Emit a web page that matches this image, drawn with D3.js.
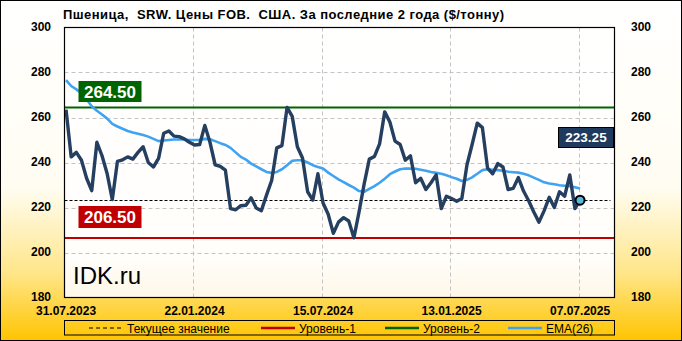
<!DOCTYPE html>
<html lang="ru">
<head>
  <meta charset="UTF-8" />
  <title>Пшеница SRW. Цены FOB</title>
  <style>
    body {
      margin: 0;
      background: #fff;
    }
    svg {
      display: block;
      font-family: "Liberation Sans", Arial, sans-serif;
    }
    .tick-label {
      font-size: 12px;
      font-weight: bold;
      fill: #000;
    }
    .grid {
      stroke: #c4c4c4;
      stroke-width: 1;
      stroke-dasharray: 4 3;
    }
  </style>
</head>
<body>
  <svg id="chart" width="682" height="341" viewBox="0 0 682 341" xmlns="http://www.w3.org/2000/svg"></svg>

  <script src="https://d3js.org/d3.v7.min.js"></script>
  <script>
    const width = 682;
    const height = 341;

    // weekly prices, $/t (index 0 = 31.07.2023, index 100 = 07.07.2025)
    const prices = [
      263.5, 242.5, 244.5, 241, 233, 227.5, 249, 243, 235, 223.5,
      240.5, 241.2, 242.5, 241.5, 244.5, 247, 240, 238, 241.8, 253,
      254, 251.7, 251.5, 250.5, 249, 247.8, 248, 256.5, 249, 239,
      238.3, 236.6, 219.5, 219, 220.8, 221, 224.3, 219.8, 218.6, 225.5,
      232, 246.5, 247.5, 264.5, 260.5, 247, 242, 227, 223.3, 235,
      222, 217, 208.5, 213.5, 215.5, 214, 206.5, 218, 230.5, 241.5,
      242.7, 248.3, 262.5, 258, 249.5, 248, 241, 243, 231, 233,
      228, 231, 234.5, 219.5, 225, 224, 222.8, 224, 239, 248,
      257.5, 255.5, 237.5, 235, 239.5, 238, 228, 228.5, 233.3, 227.3,
      223, 218, 213.5, 218.5, 224.5, 220, 227, 225, 234.5, 219.5,
      223.25
    ];

    // EMA(26) as drawn on the chart
    const ema = [
      276.6, 274, 272.5, 270.8, 268, 265, 263, 261.3, 259.5, 257.2,
      256, 255, 254, 253.3, 252.8, 252.2, 251.5, 250.5, 249.5, 249.8,
      250, 250.2, 250.2, 250.2, 250, 250, 250, 250.5, 250.3, 249.5,
      248.6, 247.8, 246.5, 244.5, 242.5, 241.3, 239.5, 238.3, 237, 235.8,
      235.4, 235.8, 237, 238.8, 240.8, 241, 241, 240, 238.8, 238,
      237.3, 235.5, 234, 232.5, 231.3, 230, 228.8, 227.3, 227, 228.3,
      229.5, 231, 232.8, 234.8, 236, 237, 237.3, 237.3, 237.2, 236.8,
      236.3, 235.8, 235.4, 235, 234.3, 233.5, 232.8, 231.8, 232.3, 233.4,
      235, 236.6, 237, 236.8, 236.6, 236.3, 235.9, 235.7, 235.5, 235,
      234.3, 233.3, 232.3, 231.2, 230.7, 230.3, 229.9, 229.7, 229.5, 229,
      228.4
    ];

    const tickIndex = [0, 25, 50, 75, 100];
    const tickLabels = ["31.07.2023", "22.01.2024", "15.07.2024", "13.01.2025", "07.07.2025"];
    const yTicks = [180, 200, 220, 240, 260, 280, 300];

    const level1 = 206.5;
    const level2 = 264.5;
    const current = 223.25;

    const legendItems = [
      { label: "Текущее значение", type: "dash", color: "#000" },
      { label: "Уровень-1", type: "line", color: "#c00000" },
      { label: "Уровень-2", type: "line", color: "#006400" },
      { label: "EMA(26)", type: "line", color: "#3fa3f2" }
    ];

    const plot = { left: 64.5, right: 614.5, top: 27.5, bottom: 297.5 };

    const x = d3.scaleLinear().domain([-0.3, 106.7]).range([plot.left, plot.right]);
    const y = d3.scaleLinear().domain([180, 300]).range([plot.bottom, plot.top]);

    const svg = d3.select("#chart");
    const defs = svg.append("defs");

    const bg = defs.append("linearGradient").attr("id", "bg")
      .attr("x1", 0).attr("y1", 0).attr("x2", 0).attr("y2", 1);
    bg.append("stop").attr("offset", "0%").attr("stop-color", "#ffffff");
    bg.append("stop").attr("offset", "55%").attr("stop-color", "#fffdf2");
    bg.append("stop").attr("offset", "80%").attr("stop-color", "#ffe68a");
    bg.append("stop").attr("offset", "100%").attr("stop-color", "#ffc400");

    const pbg = defs.append("linearGradient").attr("id", "pbg")
      .attr("x1", 0).attr("y1", 0).attr("x2", 0).attr("y2", 1);
    pbg.append("stop").attr("offset", "0%").attr("stop-color", "#ffffff");
    pbg.append("stop").attr("offset", "85%").attr("stop-color", "#fffefb");
    pbg.append("stop").attr("offset", "100%").attr("stop-color", "#fff7e8");

    // background + frame
    svg.append("rect")
      .attr("x", 0.5).attr("y", 0.5)
      .attr("width", width - 1).attr("height", height - 1)
      .attr("fill", "url(#bg)")
      .attr("stroke", "#000");

    svg.append("rect")
      .attr("x", plot.left).attr("y", plot.top)
      .attr("width", plot.right - plot.left).attr("height", plot.bottom - plot.top)
      .attr("fill", "url(#pbg)");

    // title
    svg.append("text")
      .attr("x", 63).attr("y", 19)
      .attr("font-size", 13)
      .attr("font-weight", "bold")
      .attr("letter-spacing", 0.45)
      .style("white-space", "pre")
      .text("Пшеница,  SRW. Цены FOB.  США. За последние 2 года ($/тонну)");

    // grid
    const grid = svg.append("g");
    grid.selectAll(".hgrid")
      .data(yTicks.filter(d => d > 180 && d < 300))
      .enter().append("line")
      .attr("class", "grid")
      .attr("x1", plot.left).attr("x2", plot.right)
      .attr("y1", d => Math.round(y(d)) + 0.5)
      .attr("y2", d => Math.round(y(d)) + 0.5);

    grid.selectAll(".vgrid")
      .data(tickIndex.slice(1))
      .enter().append("line")
      .attr("class", "grid")
      .attr("x1", d => Math.round(x(d - 0.3)) + 0.5)
      .attr("x2", d => Math.round(x(d - 0.3)) + 0.5)
      .attr("y1", plot.top).attr("y2", plot.bottom);

    // y labels, both sides
    svg.append("g").selectAll("text")
      .data(yTicks)
      .enter().append("text")
      .attr("class", "tick-label")
      .attr("x", 41)
      .attr("y", d => y(d) + 3.5)
      .attr("text-anchor", "middle")
      .text(d => d);

    svg.append("g").selectAll("text")
      .data(yTicks)
      .enter().append("text")
      .attr("class", "tick-label")
      .attr("x", 641)
      .attr("y", d => y(d) + 3.5)
      .attr("text-anchor", "middle")
      .text(d => d);

    // x labels
    svg.append("g").selectAll("text")
      .data(tickIndex)
      .enter().append("text")
      .attr("class", "tick-label")
      .attr("x", d => x(d))
      .attr("y", 314.5)
      .attr("text-anchor", "middle")
      .text((d, i) => tickLabels[i]);

    // watermark
    svg.append("text")
      .attr("x", 73).attr("y", 284)
      .attr("font-size", 24)
      .attr("fill", "#000")
      .text("IDK.ru");

    // levels
    svg.append("line")
      .attr("x1", plot.left).attr("x2", plot.right)
      .attr("y1", y(level2)).attr("y2", y(level2))
      .attr("stroke", "#006400").attr("stroke-width", 2);
    svg.append("line")
      .attr("x1", plot.left).attr("x2", plot.right)
      .attr("y1", y(level1)).attr("y2", y(level1))
      .attr("stroke", "#c00000").attr("stroke-width", 2);

    // current value
    svg.append("line")
      .attr("x1", plot.left).attr("x2", plot.right - 4)
      .attr("y1", Math.round(y(current)) + 0.5).attr("y2", Math.round(y(current)) + 0.5)
      .attr("stroke", "#000").attr("stroke-width", 1)
      .attr("stroke-dasharray", "3 2");

    // EMA
    const line = d3.line()
      .x((d, i) => x(i))
      .y(d => y(d));

    svg.append("path")
      .datum(ema)
      .attr("fill", "none")
      .attr("stroke", "#3fa3f2")
      .attr("stroke-width", 2.6)
      .attr("stroke-linejoin", "round")
      .attr("d", line);

    // price
    svg.append("path")
      .datum(prices)
      .attr("fill", "none")
      .attr("stroke", "#243f60")
      .attr("stroke-width", 3.4)
      .attr("stroke-linejoin", "round")
      .attr("d", line);

    svg.append("circle")
      .attr("cx", x(prices.length - 1))
      .attr("cy", y(prices[prices.length - 1]))
      .attr("r", 4.5)
      .attr("fill", "#5bb8d8")
      .attr("stroke", "#000")
      .attr("stroke-width", 2);

    // plot frame
    svg.append("rect")
      .attr("x", plot.left).attr("y", plot.top)
      .attr("width", plot.right - plot.left).attr("height", plot.bottom - plot.top)
      .attr("fill", "none")
      .attr("stroke", "#000")
      .attr("stroke-width", 1.2);

    // value badges
    function badge(cx, cy, w, h, fill, txt, size) {
      svg.append("rect")
        .attr("x", cx - w / 2).attr("y", cy - h / 2)
        .attr("width", w).attr("height", h)
        .attr("fill", fill);
      svg.append("text")
        .attr("x", cx).attr("y", cy + size * 0.36)
        .attr("text-anchor", "middle")
        .attr("font-size", size)
        .attr("font-weight", "bold")
        .attr("fill", "#fff")
        .text(txt);
    }
    badge(110, 91.5, 63, 21, "#006400", level2.toFixed(2), 17);
    badge(110, 217, 63, 22, "#c00000", level1.toFixed(2), 17);

    svg.append("rect")
      .attr("x", 558.5).attr("y", 127.5)
      .attr("width", 55).attr("height", 20)
      .attr("fill", "#1f3a5c")
      .attr("stroke", "#000");
    svg.append("text")
      .attr("x", 586).attr("y", 142)
      .attr("text-anchor", "middle")
      .attr("font-size", 13.5)
      .attr("font-weight", "bold")
      .attr("fill", "#fff")
      .text(current.toFixed(2));

    // legend
    svg.append("rect")
      .attr("x", 64.5).attr("y", 320.5)
      .attr("width", 550).attr("height", 14.5)
      .attr("fill", "none")
      .attr("stroke", "#000");

    const legendX = [89, 261, 385, 508];
    const lg = svg.append("g").selectAll("g")
      .data(legendItems)
      .enter().append("g")
      .attr("transform", (d, i) => `translate(${legendX[i]},328)`);

    lg.append("line")
      .attr("x1", 0).attr("x2", 34)
      .attr("y1", 0).attr("y2", 0)
      .attr("stroke", d => d.color)
      .attr("stroke-width", d => d.type === "dash" ? 1 : 2.5)
      .attr("stroke-dasharray", d => d.type === "dash" ? "4 3" : null);

    lg.append("text")
      .attr("x", 38).attr("y", 4.5)
      .attr("font-size", 12)
      .attr("fill", "#000")
      .text(d => d.label);
  </script>
</body>
</html>
